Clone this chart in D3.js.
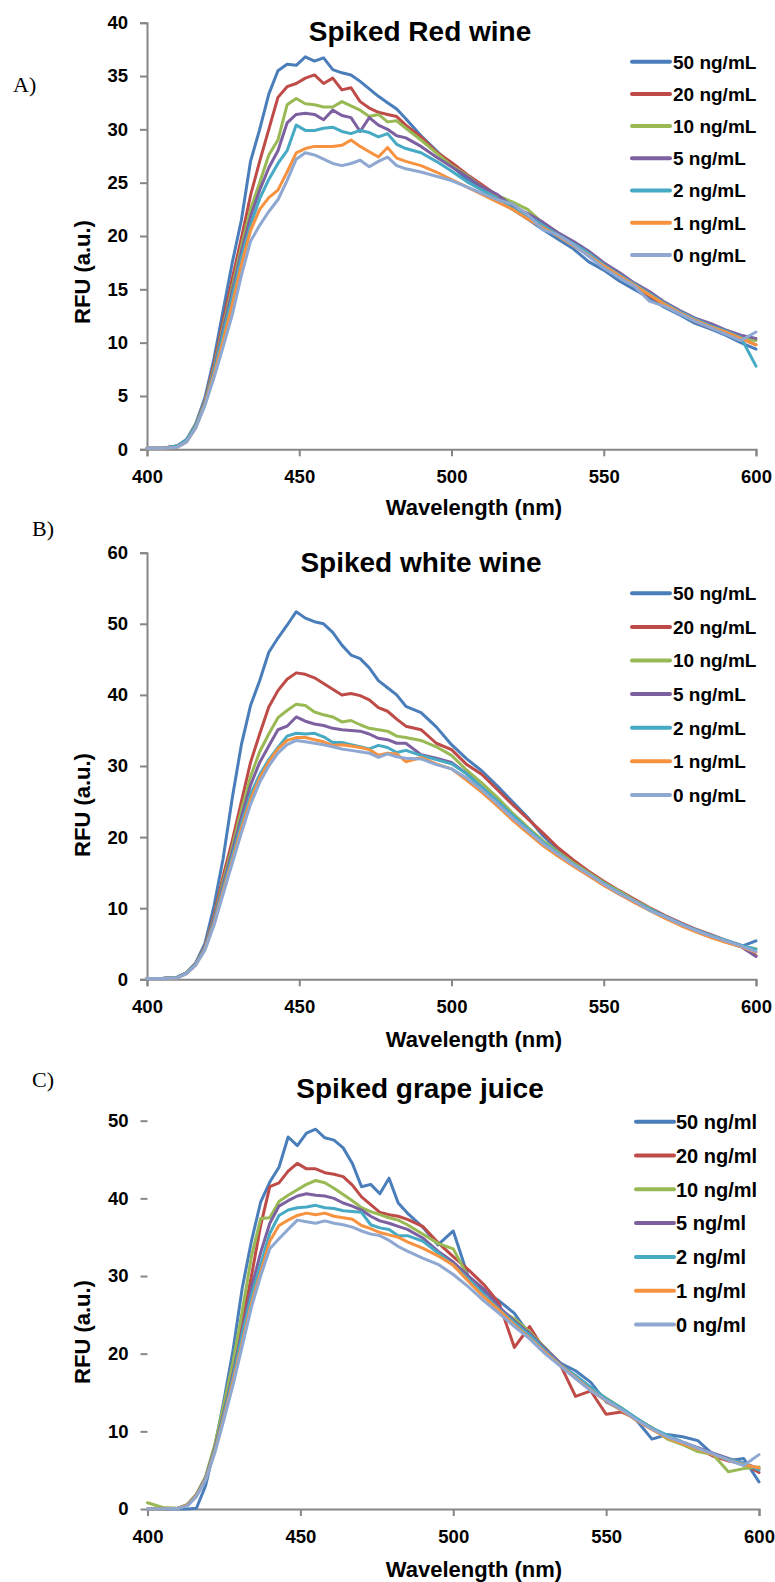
<!DOCTYPE html>
<html>
<head>
<meta charset="utf-8">
<script src="https://cdn.jsdelivr.net/npm/d3@7"></script>
<style>
  html, body { margin: 0; padding: 0; background: #fff; }
  svg { display: block; }
  text { font-family: "Liberation Sans", Arial, sans-serif; }
</style>
</head>
<body>
<svg id="chart" width="775" height="1582"></svg>
<script>
// ---------------- DATA ----------------
const wavelengths = [400,405,410,413,416,419,422,425,428,431,434,437,440,443,446,449,452,455,458,461,464,467,470,473,476,479,482,485,490,495,500,505,510,515,520,525,530,535,540,545,550,555,560,565,570,575,580,585,590,595,600];

const xTicks = [400, 450, 500, 550, 600];
const yTicksA = [0, 5, 10, 15, 20, 25, 30, 35, 40];
const yTicksB = [0, 10, 20, 30, 40, 50, 60];
const yTicksC = [0, 10, 20, 30, 40, 50];

const seriesColors = ["#4A7EBB","#BE4B48","#98B954","#7D60A0","#46AAC5","#F69240","#8EA8D2"];
const labelsMixed = ["50 ng/mL","20 ng/mL","10 ng/mL","5 ng/mL","2 ng/mL","1 ng/mL","0 ng/mL"];
const labelsLower = ["50 ng/ml","20 ng/ml","10 ng/ml","5 ng/ml","2 ng/ml","1 ng/ml","0 ng/ml"];

const titles = ["Spiked Red wine", "Spiked white wine", "Spiked grape juice"];
const panelLetters = ["A)", "B)", "C)"];
const xAxisTitle = "Wavelength (nm)";
const yAxisTitle = "RFU (a.u.)";

// Panel A: spiked red wine
const redWine50 = [0.1,0.1,0.3,0.9,2.4,4.8,8.5,13.0,17.5,21.5,27.0,30.0,33.3,35.5,36.1,36.0,36.8,36.4,36.7,35.6,35.3,35.1,34.5,33.8,33.1,32.5,31.9,31.0,29.4,28.0,26.6,25.3,24.4,23.5,22.5,21.6,20.6,19.7,18.8,17.6,16.8,15.8,15.0,14.2,13.3,12.6,11.8,11.3,10.7,10.0,9.4];
const redWine20 = [0.1,0.1,0.3,0.9,2.3,4.5,8.0,12.0,16.0,19.8,23.8,27.0,30.0,33.0,34.0,34.3,34.8,35.1,34.3,34.8,33.7,33.9,32.6,32.0,31.6,31.4,31.2,30.4,29.3,27.9,26.9,25.8,24.8,23.8,22.9,22.0,21.0,20.1,19.2,18.2,17.2,16.3,15.3,14.4,13.5,12.8,12.0,11.4,10.9,10.4,9.8];
const redWine10 = [0.1,0.1,0.3,0.9,2.3,4.4,7.7,11.5,15.2,19.0,22.5,25.0,27.6,29.0,32.3,32.9,32.4,32.3,32.1,32.1,32.6,32.2,31.8,31.2,31.4,30.7,30.8,30.1,29.0,27.8,26.6,25.7,24.6,23.8,23.2,22.5,21.2,20.3,19.4,18.3,17.4,16.4,15.4,14.5,13.6,12.8,12.1,11.5,10.9,10.4,10.2];
const redWine5  = [0.1,0.1,0.3,0.9,2.2,4.3,7.5,11.2,14.8,18.5,21.8,24.3,26.4,28.0,30.6,31.4,31.5,31.4,30.9,31.8,31.3,31.1,29.8,31.1,30.4,30.0,29.4,29.2,28.4,27.4,26.5,25.6,24.6,23.9,22.8,22.1,21.3,20.3,19.5,18.6,17.5,16.6,15.6,14.8,13.8,13.0,12.3,11.8,11.2,10.7,10.4];
const redWine2  = [0.1,0.1,0.3,0.9,2.2,4.3,7.3,10.8,14.3,18.0,21.0,23.5,25.3,26.8,28.0,30.4,29.9,29.9,30.1,30.2,29.8,29.6,29.9,29.7,29.3,29.6,28.6,28.2,27.8,27.0,26.1,25.1,24.3,23.5,22.6,21.9,21.0,20.1,19.3,18.4,17.3,16.4,15.5,14.6,13.7,12.9,12.2,11.6,11.1,10.5,7.8];
const redWine1  = [0.1,0.1,0.2,0.7,2.0,4.2,7.0,10.2,13.6,17.3,20.5,22.5,23.6,24.3,26.0,27.8,28.2,28.4,28.4,28.4,28.5,29.0,28.4,27.9,27.4,28.3,27.3,27.0,26.6,26.0,25.3,24.6,23.9,23.2,22.5,21.6,20.8,20.0,19.1,18.2,17.2,16.3,15.4,14.5,13.6,12.8,12.1,11.5,11.0,10.4,9.8];
const redWine0  = [0.1,0.1,0.2,0.7,2.0,4.1,6.7,9.6,12.6,16.3,19.5,21.0,22.3,23.4,25.2,27.2,27.8,27.6,27.2,26.8,26.6,26.8,27.1,26.5,27.0,27.4,26.6,26.3,26.0,25.6,25.2,24.6,24.0,23.4,23.0,22.0,20.6,20.1,19.2,18.1,17.0,16.1,15.3,13.9,13.4,12.7,12.0,11.4,10.8,10.2,11.0];

// Panel B: spiked white wine
const whiteWine50 = [0.1,0.1,0.3,0.9,2.3,5.0,10.3,17.0,25.5,33.0,38.5,42.0,46.0,48.0,49.8,51.7,50.8,50.3,50.0,48.8,47.0,45.6,45.1,43.8,42.0,41.0,40.0,38.4,37.5,35.5,33.0,31.0,29.3,27.2,25.0,22.8,20.2,18.2,16.5,15.0,13.6,12.3,11.0,9.9,8.8,7.8,6.9,6.1,5.3,4.6,5.4];
const whiteWine20 = [0.1,0.1,0.3,0.9,2.2,4.6,9.0,14.5,19.5,25.0,30.5,34.5,38.3,40.6,42.2,43.1,42.9,42.4,41.6,40.8,40.0,40.2,39.9,39.3,38.2,37.7,36.6,35.6,35.1,33.2,32.3,30.2,28.8,26.7,24.6,22.6,20.6,18.5,16.8,15.2,13.8,12.5,11.3,10.1,9.0,8.0,7.1,6.3,5.5,4.8,3.3];
const whiteWine10 = [0.1,0.1,0.3,0.9,2.2,4.5,8.6,13.8,18.6,23.8,28.5,32.0,34.5,36.8,37.8,38.7,38.5,37.6,37.2,36.9,36.2,36.4,35.8,35.3,35.1,34.9,34.2,34.0,33.6,32.7,31.5,29.4,27.6,25.6,23.4,21.4,19.5,17.9,16.4,15.0,13.6,12.4,11.1,10.0,8.8,7.8,6.9,6.1,5.4,4.7,4.3];
const whiteWine5  = [0.1,0.1,0.3,0.9,2.2,4.4,8.4,13.3,18.0,22.8,27.3,30.5,32.8,35.1,35.6,36.9,36.3,35.9,35.7,35.3,35.1,35.0,34.9,34.5,33.9,33.7,33.2,33.2,31.6,31.1,30.5,28.9,27.0,25.0,22.9,21.0,19.0,17.4,16.0,14.6,13.3,12.0,10.9,9.8,8.8,7.8,6.9,6.1,5.3,4.6,3.2];
const whiteWine2  = [0.1,0.1,0.3,0.9,2.1,4.3,8.1,12.8,17.3,21.9,26.0,28.8,30.9,32.6,34.2,34.6,34.5,34.6,34.1,33.3,33.3,33.0,32.7,32.4,32.9,32.6,31.9,32.2,31.5,30.9,30.3,28.9,27.0,25.1,23.1,21.2,19.3,17.7,16.2,14.8,13.5,12.2,11.0,9.9,8.9,7.9,7.0,6.2,5.5,4.8,4.2];
const whiteWine1  = [0.1,0.1,0.2,0.8,2.0,4.2,7.8,12.4,16.7,21.2,25.3,28.3,30.6,32.4,33.6,34.0,34.0,33.7,33.4,32.9,33.0,32.8,32.6,32.3,31.5,31.8,31.7,30.6,31.2,30.3,29.6,28.0,26.3,24.4,22.4,20.6,18.8,17.3,15.9,14.6,13.2,12.0,10.8,9.7,8.6,7.6,6.7,5.9,5.2,4.6,3.8];
const whiteWine0  = [0.1,0.1,0.2,0.8,2.0,4.1,7.6,12.0,16.3,20.6,24.6,27.7,30.0,31.8,33.0,33.6,33.4,33.2,33.0,32.7,32.4,32.2,32.0,31.8,31.2,31.7,31.3,31.1,31.0,30.2,29.6,28.3,26.6,24.7,22.7,20.9,19.1,17.6,16.1,14.8,13.4,12.1,11.0,9.7,8.8,7.8,6.9,6.1,5.4,4.7,3.9];

// Panel C: spiked grape juice
const grape50 = [0.0,0.0,0.0,0.0,0.1,3.0,8.0,14.0,20.5,28.5,34.5,39.5,42.1,44.0,47.9,46.8,48.4,48.9,47.8,47.5,46.5,44.5,41.5,41.8,40.6,42.6,39.4,38.1,36.3,34.0,35.8,29.8,28.0,26.8,25.2,22.4,20.5,18.8,17.8,16.3,13.8,12.8,11.4,9.0,9.6,9.3,8.8,7.0,6.2,6.5,3.5];
const grape20 = [0.0,0.0,0.1,0.5,1.8,4.0,8.0,13.0,18.5,24.0,30.0,36.5,41.5,42.0,43.5,44.5,43.8,43.8,43.3,43.1,42.8,41.7,40.2,39.2,38.2,37.9,37.7,37.3,36.4,34.3,32.5,30.8,28.9,26.5,20.8,23.5,20.3,18.6,14.5,15.2,12.2,12.5,11.6,10.3,9.2,8.6,7.8,6.8,6.2,5.8,4.7];
const grape10 = [0.8,0.2,0.1,0.6,1.9,4.2,8.3,13.5,19.0,25.5,32.5,37.4,37.5,39.6,40.4,41.1,41.8,42.3,42.0,41.3,40.5,39.7,38.8,38.3,37.9,37.5,37.2,36.6,35.4,34.2,33.5,29.8,27.4,25.6,24.5,22.8,20.8,18.7,17.0,15.5,14.3,13.0,11.6,10.5,9.0,8.3,7.4,7.0,4.8,5.2,5.4];
const grape5  = [0.0,0.0,0.1,0.5,1.8,4.0,7.8,12.5,17.5,23.0,28.5,33.0,36.8,39.0,39.7,40.3,40.6,40.4,40.3,40.0,39.4,39.0,38.5,37.7,37.1,36.8,36.4,36.0,34.9,33.2,31.8,30.0,28.3,26.0,24.2,22.6,20.7,18.8,17.0,15.5,14.0,12.8,11.6,10.4,9.4,8.6,7.9,7.2,6.5,5.9,5.2];
const grape2  = [0.0,0.0,0.1,0.5,1.7,3.9,7.6,12.2,17.0,22.5,27.5,31.5,35.5,37.8,38.5,38.8,38.9,39.1,38.8,38.7,38.4,38.3,38.2,36.6,36.2,36.0,35.2,35.2,34.5,33.0,31.4,29.6,27.6,25.7,24.0,22.4,20.4,18.6,17.2,15.7,14.2,13.0,11.7,10.4,9.5,8.6,7.8,7.1,6.4,5.9,5.0];
const grape1  = [0.0,0.0,0.1,0.5,1.7,3.8,7.4,11.8,16.5,21.5,26.5,30.5,34.5,36.5,37.2,37.8,38.1,37.9,38.1,37.7,37.5,37.3,36.5,36.1,35.6,35.3,35.0,34.4,33.6,32.6,31.4,29.3,27.3,25.6,23.7,22.0,20.2,18.5,16.9,15.3,13.9,12.7,11.4,10.2,9.2,8.4,7.7,7.0,6.3,5.7,5.3];
const grape0  = [0.0,0.0,0.1,0.4,1.6,3.7,7.2,11.5,16.0,21.0,26.0,30.0,33.5,34.8,36.0,37.2,37.0,36.8,37.1,36.8,36.6,36.3,35.8,35.4,35.2,34.6,33.8,33.2,32.3,31.5,30.2,28.6,26.8,25.2,23.5,21.9,20.0,18.4,16.8,15.2,14.0,12.8,11.5,10.3,9.3,8.6,7.8,7.1,6.3,5.6,7.0];

// ---------------- LAYOUT ----------------
const panels = [
  { title: titles[0], letter: panelLetters[0], yMax: 40, yTicks: yTicksA, labels: labelsMixed,
    series: [redWine50, redWine20, redWine10, redWine5, redWine2, redWine1, redWine0],
    left: 147, right: 756, top: 22.7, bottom: 449.3, yDomainLine: true,
    titleX: 420, titleY: 40.5, letterX: 13, letterY: 92,
    legX: 632, legY: 61.7, legStep: 32.2, legFont: 19, legGap: 41,
    xTitleY: 515, yTitleY: 272 },
  { title: titles[1], letter: panelLetters[1], yMax: 60, yTicks: yTicksB, labels: labelsMixed,
    series: [whiteWine50, whiteWine20, whiteWine10, whiteWine5, whiteWine2, whiteWine1, whiteWine0],
    left: 147, right: 756, top: 552.7, bottom: 979.3, yDomainLine: true,
    titleX: 421, titleY: 571.5, letterX: 32, letterY: 536,
    legX: 632, legY: 593.3, legStep: 33.6, legFont: 19, legGap: 41,
    xTitleY: 1047, yTitleY: 805 },
  { title: titles[2], letter: panelLetters[2], yMax: 50, yTicks: yTicksC, labels: labelsLower,
    series: [grape50, grape20, grape10, grape5, grape2, grape1, grape0],
    left: 147.5, right: 759, top: 1120.7, bottom: 1509, yDomainLine: false,
    titleX: 420, titleY: 1098, letterX: 32, letterY: 1087,
    legX: 636, legY: 1121.7, legStep: 33.8, legFont: 20, legGap: 40,
    xTitleY: 1577, yTitleY: 1332 }
];

const svg = d3.select("#chart");
const axisColor = "#868686";

panels.forEach(p => {
  const g = svg.append("g");
  const x = d3.scaleLinear().domain([400, 600]).range([p.left, p.right]);
  const y = d3.scaleLinear().domain([0, p.yMax]).range([p.bottom, p.top]);

  // y axis
  const yAxis = g.append("g")
    .attr("transform", `translate(${p.left},0)`)
    .call(d3.axisLeft(y).tickValues(p.yTicks).tickSize(7).tickPadding(12).tickFormat(d3.format("d")));
  yAxis.select(".domain").attr("stroke", axisColor).attr("stroke-width", 2)
    .style("display", p.yDomainLine ? null : "none");
  yAxis.selectAll(".tick line").attr("stroke", axisColor).attr("stroke-width", 2);
  yAxis.selectAll(".tick text").attr("fill", "#000")
    .style("font-family", "'Liberation Sans', Arial, sans-serif")
    .style("font-size", "18.5px").style("font-weight", "bold");

  // x axis
  const xAxis = g.append("g")
    .attr("transform", `translate(0,${p.bottom})`)
    .call(d3.axisBottom(x).tickValues(xTicks).tickSize(7).tickPadding(14).tickFormat(d3.format("d")));
  xAxis.select(".domain").attr("stroke", axisColor).attr("stroke-width", 2);
  xAxis.selectAll(".tick line").attr("stroke", axisColor).attr("stroke-width", 2);
  xAxis.selectAll(".tick text").attr("fill", "#000")
    .style("font-family", "'Liberation Sans', Arial, sans-serif")
    .style("font-size", "18.5px").style("font-weight", "bold");

  // lines
  const line = d3.line()
    .x((d, i) => x(wavelengths[i]))
    .y(d => y(d));
  p.series.forEach((s, k) => {
    g.append("path")
      .datum(s)
      .attr("fill", "none")
      .attr("stroke", seriesColors[k])
      .attr("stroke-width", 3)
      .attr("stroke-linejoin", "round")
      .attr("stroke-linecap", "round")
      .attr("d", line);
  });

  // title
  g.append("text")
    .attr("x", p.titleX).attr("y", p.titleY)
    .attr("text-anchor", "middle")
    .style("font-size", "28px").style("font-weight", "bold")
    .text(p.title);

  // panel letter
  g.append("text")
    .attr("x", p.letterX).attr("y", p.letterY)
    .style("font-family", "'Liberation Serif', 'Times New Roman', serif")
    .style("font-size", "22px")
    .text(p.letter);

  // axis titles
  g.append("text")
    .attr("x", 474).attr("y", p.xTitleY)
    .attr("text-anchor", "middle")
    .style("font-size", "22px").style("font-weight", "bold")
    .text(xAxisTitle);
  g.append("text")
    .attr("transform", `translate(90,${p.yTitleY}) rotate(-90)`)
    .attr("text-anchor", "middle")
    .style("font-size", "22px").style("font-weight", "bold")
    .text(yAxisTitle);

  // legend
  const leg = g.append("g");
  p.labels.forEach((lab, k) => {
    const ly = p.legY + k * p.legStep;
    leg.append("line")
      .attr("x1", p.legX).attr("x2", p.legX + 38)
      .attr("y1", ly).attr("y2", ly)
      .attr("stroke", seriesColors[k]).attr("stroke-width", 4)
      .attr("stroke-linecap", "round");
    leg.append("text")
      .attr("x", p.legX + p.legGap).attr("y", ly)
      .attr("dy", "0.36em")
      .style("font-size", p.legFont + "px").style("font-weight", "bold")
      .text(lab);
  });
});
</script>
</body>
</html>
